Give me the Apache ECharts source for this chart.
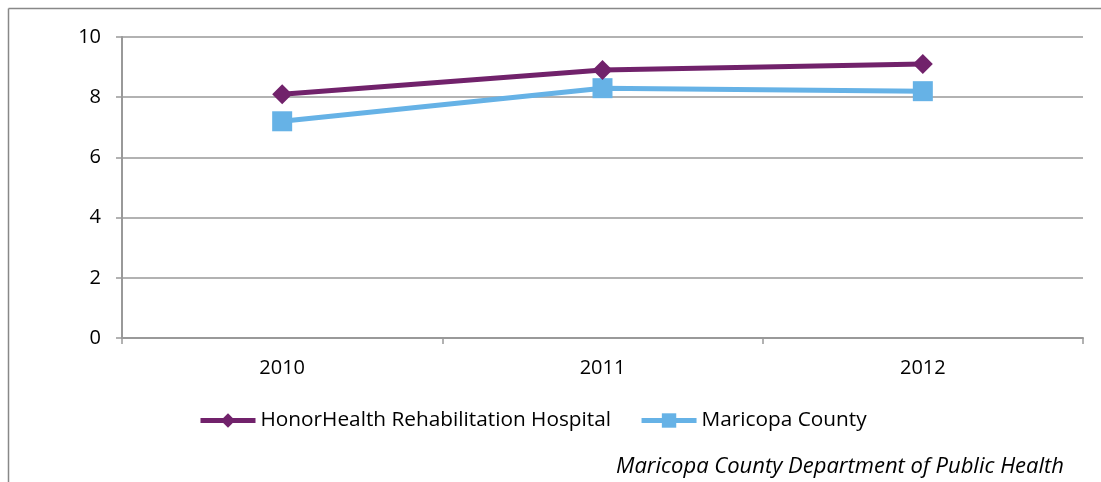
<!DOCTYPE html>
<html><head><meta charset="utf-8">
<script src="https://cdn.jsdelivr.net/npm/echarts@6/dist/echarts.min.js"></script>
<style>html,body{margin:0;padding:0;background:#fff}#c{width:1101px;height:482px}</style>
</head><body><div id="c"></div>
<script>
const categories = ['2010', '2011', '2012'];
const honorHealth = [8.1, 8.9, 9.1];
const maricopa = [7.2, 8.3, 8.2];
const seriesNames = ['HonorHealth Rehabilitation Hospital', 'Maricopa County'];
const sourceText = 'Maricopa County Department of Public Health';

const FONT = 'Open Sans';
const chart = echarts.init(document.getElementById('c'), null, {renderer: 'canvas'});
chart.setOption({
  animation: false,
  backgroundColor: '#fff',
  grid: {left: 122, right: 18, top: 37, bottom: 144},
  legend: {
    data: seriesNames,
    left: 198, top: 410, padding: 0,
    itemWidth: 55, itemHeight: 18, itemGap: 28,
    lineStyle: {width: 5},
    textStyle: {fontFamily: FONT, fontSize: 20.8, color: '#000'}
  },
  xAxis: {
    type: 'category', data: categories, boundaryGap: true,
    axisLine: {lineStyle: {color: '#999', width: 2}},
    axisTick: {show: true, length: 6, lineStyle: {color: '#999', width: 1.5}},
    axisLabel: {fontFamily: FONT, fontSize: 20, color: '#000', margin: 20}
  },
  yAxis: {
    type: 'value', min: 0, max: 10, interval: 2,
    axisLine: {show: true, lineStyle: {color: '#999', width: 2}},
    axisTick: {show: true, length: 6, lineStyle: {color: '#999', width: 1.5}},
    splitLine: {lineStyle: {color: '#999', width: 1.5}},
    axisLabel: {fontFamily: FONT, fontSize: 20, color: '#000', margin: 21}
  },
  series: [
    {name: seriesNames[0], type: 'line', data: honorHealth, symbol: 'diamond', symbolSize: 20,
     itemStyle: {color: '#71226B'}, lineStyle: {color: '#71226B', width: 5}, z: 3},
    {name: seriesNames[1], type: 'line', data: maricopa, symbol: 'rect', symbolSize: 20,
     itemStyle: {color: '#66B2E6'}, lineStyle: {color: '#66B2E6', width: 5}, z: 2}
  ],
  graphic: [
    {type: 'line', shape: {x1: 8.5, y1: 8.5, x2: 1101, y2: 8.5}, style: {stroke: '#888', lineWidth: 1.5}},
    {type: 'line', shape: {x1: 8.5, y1: 8.5, x2: 8.5, y2: 482}, style: {stroke: '#888', lineWidth: 1.5}},
    {type: 'text', right: 37, top: 456, style: {text: sourceText, font: 'italic 22px "Open Sans"', fill: '#000'}}
  ]
});
</script></body></html>
